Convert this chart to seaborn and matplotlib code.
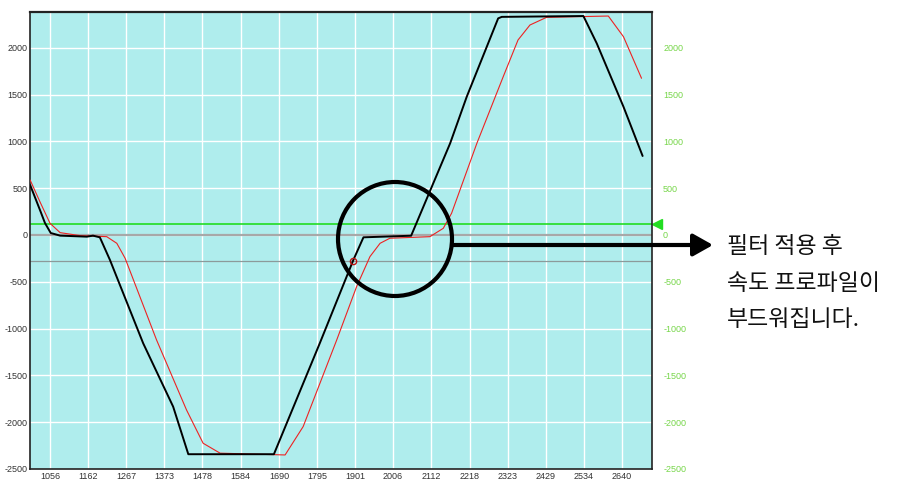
import matplotlib
matplotlib.use("Agg")
import matplotlib.pyplot as plt
import seaborn as sns
from matplotlib.patches import Ellipse

# Data
black_x = [1001, 1030, 1042, 1058, 1084, 1158, 1175, 1194, 1222, 1314, 1397, 1439,
           1676, 1803, 1896, 1924, 2056, 2164, 2210, 2297, 2307, 2533, 2570, 2644, 2697]
black_y = [534, 249, 128, 21, -7, -18, -7, -25, -267, -1157, -1834, -2342,
           -2342, -1157, -267, -25, -8, 979, 1477, 2314, 2330, 2339, 2047, 1370, 844]

red_x = [1001, 1028, 1056, 1084, 1139, 1213, 1241, 1264, 1351, 1434, 1480, 1527,
         1707, 1757, 1850, 1905, 1942, 1970, 1997, 2108, 2145, 2168, 2238, 2311,
         2352, 2385, 2431, 2602, 2644, 2694]
red_y = [587, 356, 125, 25, -7, -18, -89, -249, -1121, -1869, -2225, -2331,
         -2350, -2047, -1121, -552, -231, -89, -35, -18, 71, 232, 979, 1691,
         2083, 2243, 2325, 2339, 2118, 1674]

x_ticks = [1056, 1162, 1267, 1373, 1478, 1584, 1690, 1795, 1901, 2006, 2112, 2218,
           2323, 2429, 2534, 2640]
y_ticks = [-2500, -2000, -1500, -1000, -500, 0, 500, 1000, 1500, 2000]

green_level = 117
cursor_level = -278
marker_x, marker_y = 1895, -278

note_lines = ["필터 적용 후", "속도 프로파일이", "부드워집니다."]

sns.set_style("white", {"axes.facecolor": "#afeded", "axes.edgecolor": "#222222"})
plt.rcParams["font.family"] = ["Liberation Sans", "DejaVu Sans"]
plt.rcParams["axes.unicode_minus"] = False

W, H = 904, 480
fig = plt.figure(figsize=(W / 100, H / 100), dpi=100)
ax = fig.add_axes([30 / W, 1 - 469 / H, 622 / W, 457 / H])

ax.set_xlim(1000.6, 2723)
ax.set_ylim(-2500, 2382)
ax.set_xticks(x_ticks)
ax.set_yticks(y_ticks)
ax.grid(True, color="white", lw=1)
ax.set_axisbelow(True)
ax.tick_params(length=0, labelsize=6.5, labelcolor="#333333", pad=2)

# reference lines
ax.axhline(0, color="#a8a8a8", lw=1.6, zorder=1)
ax.axhline(cursor_level, color="#8c9a9a", lw=0.9, zorder=1)
ax.axhline(green_level, color="#22dd22", lw=1.2, zorder=1)

sns.lineplot(x=red_x, y=red_y, ax=ax, color="#ee2222", lw=0.8,
             estimator=None, sort=False, zorder=3)
sns.lineplot(x=black_x, y=black_y, ax=ax, color="black", lw=1.4,
             estimator=None, sort=False, zorder=4)
ax.plot([marker_x], [marker_y], marker="o", ms=4.5, mfc="none", mec="#bb1111",
        mew=1, zorder=5)

# green level marker outside right edge
ax.plot([1.008], [green_level], marker="<", ms=7, color="#22dd22",
        transform=ax.get_yaxis_transform(), clip_on=False)

for s in ax.spines.values():
    s.set_linewidth(1.2)
ax.spines["top"].set_linewidth(1.6)

ax2 = ax.twinx()
ax2.set_ylim(ax.get_ylim())
ax2.set_yticks(y_ticks)
ax2.tick_params(length=0, labelsize=6.5, labelcolor="#77d64a", pad=8)
for s in ax2.spines.values():
    s.set_visible(False)

# annotation: circle + arrow + note
circ = Ellipse((395 / W, 1 - 239 / H), width=114 / W, height=114 / H,
               transform=fig.transFigure, fill=False, lw=3, color="black", zorder=10)
fig.add_artist(circ)
ax.annotate("", xy=(713, H - 245), xytext=(452, H - 245),
            xycoords="figure pixels", textcoords="figure pixels",
            arrowprops=dict(arrowstyle="-|>,head_length=0.8,head_width=0.45",
                            lw=3, color="black", mutation_scale=15,
                            shrinkA=0, shrinkB=0))

for i, line in enumerate(note_lines):
    fig.text(727 / W, 1 - (247 + 36 * i) / H, line, ha="left", va="center",
             fontsize=16.5, family=["Noto Sans CJK KR", "DejaVu Sans"],
             color="#111111")

fig.savefig("out.png", dpi=100)
